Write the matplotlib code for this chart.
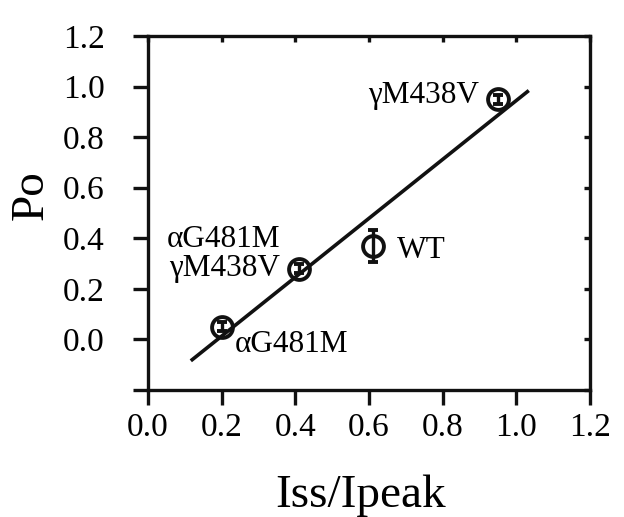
import numpy as np
import matplotlib.pyplot as plt

# data
iss_ipeak = [0.20, 0.41, 0.61, 0.95]
po = [0.05, 0.28, 0.37, 0.95]
po_err = [0.018, 0.018, 0.063, 0.018]
names = ["\u03b1G481M", "\u03b1G481M\n\u03b3M438V", "WT", "\u03b3M438V"]

fit_x = [0.12, 1.03]
fit_y = [-0.08, 0.98]

xticks = [0.0, 0.2, 0.4, 0.6, 0.8, 1.0, 1.2]
yticks = [-0.2, 0.0, 0.2, 0.4, 0.6, 0.8, 1.0, 1.2]
ytick_labels = ["", "0.0", "0.2", "0.4", "0.6", "0.8", "1.0", "1.2"]

plt.rcParams['font.family'] = ['Liberation Serif', 'DejaVu Serif']

fig = plt.figure(figsize=(6.24, 5.17), dpi=100)
ax = fig.add_axes([0.2372, 0.2456, 0.7083, 0.6847])

ax.plot(fit_x, fit_y, color='#111111', lw=2.6)
ax.errorbar(iss_ipeak, po, yerr=po_err, fmt='o', mfc='none', mec='#111111',
            ms=15, mew=2.8, ecolor='#111111', elinewidth=2.4, capsize=3.5, capthick=2.2)

# labels next to points
fs = 22.5
ax.text(0.236, -0.048, names[0], fontsize=fs, ha='left', va='baseline')
ax.text(0.358, 0.366, "\u03b1G481M", fontsize=fs, ha='right', va='baseline')
ax.text(0.358, 0.25, "\u03b3M438V", fontsize=fs, ha='right', va='baseline')
ax.text(0.675, 0.323, names[2], fontsize=fs, ha='left', va='baseline')
ax.text(0.90, 0.934, names[3], fontsize=fs, ha='right', va='baseline')

ax.set_xlim(0, 1.2)
ax.set_ylim(-0.2, 1.2)
ax.set_xticks(xticks)
ax.set_xticklabels(["%.1f" % t for t in xticks])
ax.set_yticks(yticks)
ax.set_yticklabels(ytick_labels)

for s in ax.spines.values():
    s.set_linewidth(2.4)
    s.set_color('#111111')

ax.tick_params(axis='both', which='major', direction='out', length=11, width=2.4,
               labelsize=24, color='#111111')
ax.tick_params(axis='x', pad=5)
ax.tick_params(axis='y', pad=20)
ax.tick_params(top=True, right=True)
for t in ax.xaxis.get_major_ticks():
    t.tick2line.set_markersize(4)
    t.tick2line.set_marker(3)
for t in ax.yaxis.get_major_ticks():
    t.tick2line.set_markersize(4)
    t.tick2line.set_marker(0)

ax.set_xlabel("Iss/Ipeak", fontsize=34)
ax.set_ylabel("Po", fontsize=34)
ax.xaxis.set_label_coords(0.48, -0.238)
ax.yaxis.set_label_coords(-0.215, 0.55)

fig.savefig("out.png", dpi=100)
